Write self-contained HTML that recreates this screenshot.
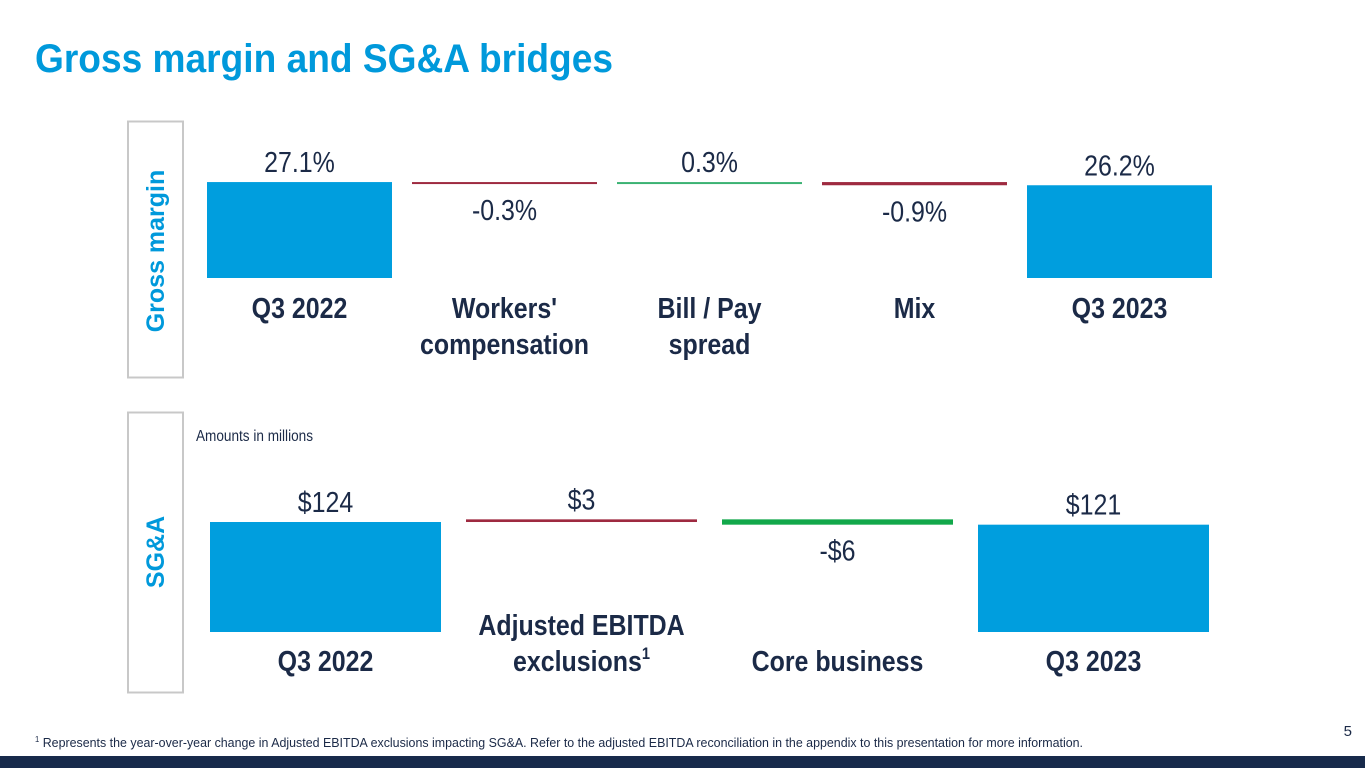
<!DOCTYPE html>
<html><head><meta charset="utf-8"><style>
html,body{margin:0;padding:0;background:#fff;}
svg{display:block;font-family:"Liberation Sans",sans-serif;}
</style></head><body>
<svg id="s" width="1365" height="768" viewBox="0 0 1365 768">
<text x="35" y="72" font-weight="bold" font-size="40" fill="#0099db" textLength="578" lengthAdjust="spacingAndGlyphs">Gross margin and SG&amp;A bridges</text>
<rect x="128" y="121.5" width="55" height="256" fill="#fff" stroke="#c8c8c8" stroke-width="2"/>
<text transform="translate(164,251) rotate(-90)" text-anchor="middle" font-weight="bold" font-size="25" fill="#0099db">Gross margin</text>
<rect x="128" y="412.5" width="55" height="280" fill="#fff" stroke="#c8c8c8" stroke-width="2"/>
<text transform="translate(164,552) rotate(-90)" text-anchor="middle" font-weight="bold" font-size="25" fill="#0099db">SG&amp;A</text>
<text transform="translate(196,441) scale(0.85,1)" font-size="16" fill="#1b2a47">Amounts in millions</text>
<g id="gm"></g>
<g id="sg"></g>
<text x="35" y="747" font-size="13" fill="#1b2a47" textLength="1048" lengthAdjust="spacingAndGlyphs"><tspan font-size="8" dy="-5">1</tspan><tspan dy="5"> Represents the year-over-year change in Adjusted EBITDA exclusions impacting SG&amp;A. Refer to the adjusted EBITDA reconciliation in the appendix to this presentation for more information.</tspan></text>
<text x="1352" y="736" text-anchor="end" font-size="15" fill="#1b2a47">5</text>
<rect x="0" y="756" width="1365" height="12" fill="#172a4b"/>
</svg>
<script>
const gmCategories = [["Q3 2022"],["Workers'","compensation"],["Bill / Pay","spread"],["Mix"],["Q3 2023"]];
const gmValues = [27.1, -0.3, 0.3, -0.9, 26.2];
const gmTypes = ["total","delta","delta","delta","total"];
const gmLabels = ["27.1%","-0.3%","0.3%","-0.9%","26.2%"];
const sgCategories = [["Q3 2022"],["Adjusted EBITDA","exclusions"],["Core business"],["Q3 2023"]];
const sgValues = [124, 3, -6, 121];
const sgTypes = ["total","delta","delta","total"];
const sgLabels = ["$124","$3","-$6","$121"];

const NS = "http://www.w3.org/2000/svg";
function mk(tag, attrs, parent){const e=document.createElementNS(NS,tag);for(const k in attrs)e.setAttribute(k,attrs[k]);parent.appendChild(e);return e;}

function draw(gid, cats, vals, types, labels, cfg){
  const g = document.getElementById(gid);
  const y = v => cfg.base - v*cfg.k;
  let run = 0;
  vals.forEach((v,i)=>{
    const x = cfg.x0 + i*cfg.pitch, cx = x + cfg.w/2;
    let top, bot, color, lblY;
    if(types[i]==="total"){ run = v; top = y(v); bot = y(0); color="#009ede"; lblY = top-10; }
    else {
      const a=y(run), b=y(run+v); run += v;
      top=Math.min(a,b); bot=Math.max(a,b);
      if(bot-top<2){ bot=top+2; }
      color = v>0 ? cfg.up : cfg.down;
      lblY = v>0 ? top-10 : bot+cfg.negOff;
    }
    const r = mk("rect",{x:x,y:top,width:cfg.w,height:bot-top,fill:color},g);
    
    
    const t = mk("text",{transform:"translate("+cx+","+lblY+") scale(0.86,1)","text-anchor":"middle","font-size":cfg.vfs,fill:"#1b2a47"},g);
    t.textContent = labels[i];
    
    
    const lines = cats[i];
    const ly = cfg.catY - (lines.length-1)*cfg.lh*cfg.shift;
    lines.forEach((ln,j)=>{
      const c = mk("text",{transform:"translate("+cx+","+(ly+j*cfg.lh)+") scale(0.86,1)","text-anchor":"middle","font-size":cfg.cfs,"font-weight":"bold",fill:"#1b2a47"},g);
      c.textContent = ln;
      if(gid==="sg" && i===1 && j===1){ const s=mk("tspan",{"font-size":17,dy:-12},c); s.textContent="1"; }
      
      
    });
  });
}
draw("gm", gmCategories, gmValues, gmTypes, gmLabels,
  {base:278, k:3.54, x0:207, pitch:205, w:185, up:"#3bb273", down:"#9e2a40", negOff:36, vfs:29, cfs:29, catY:318, lh:36, shift:0});
draw("sg", sgCategories, sgValues, sgTypes, sgLabels,
  {base:632, k:0.887, x0:210, pitch:256, w:231, up:"#9e2a40", down:"#12a84a", negOff:36, vfs:29, cfs:29, catY:671, lh:36, shift:1});
</script>
</body></html>
